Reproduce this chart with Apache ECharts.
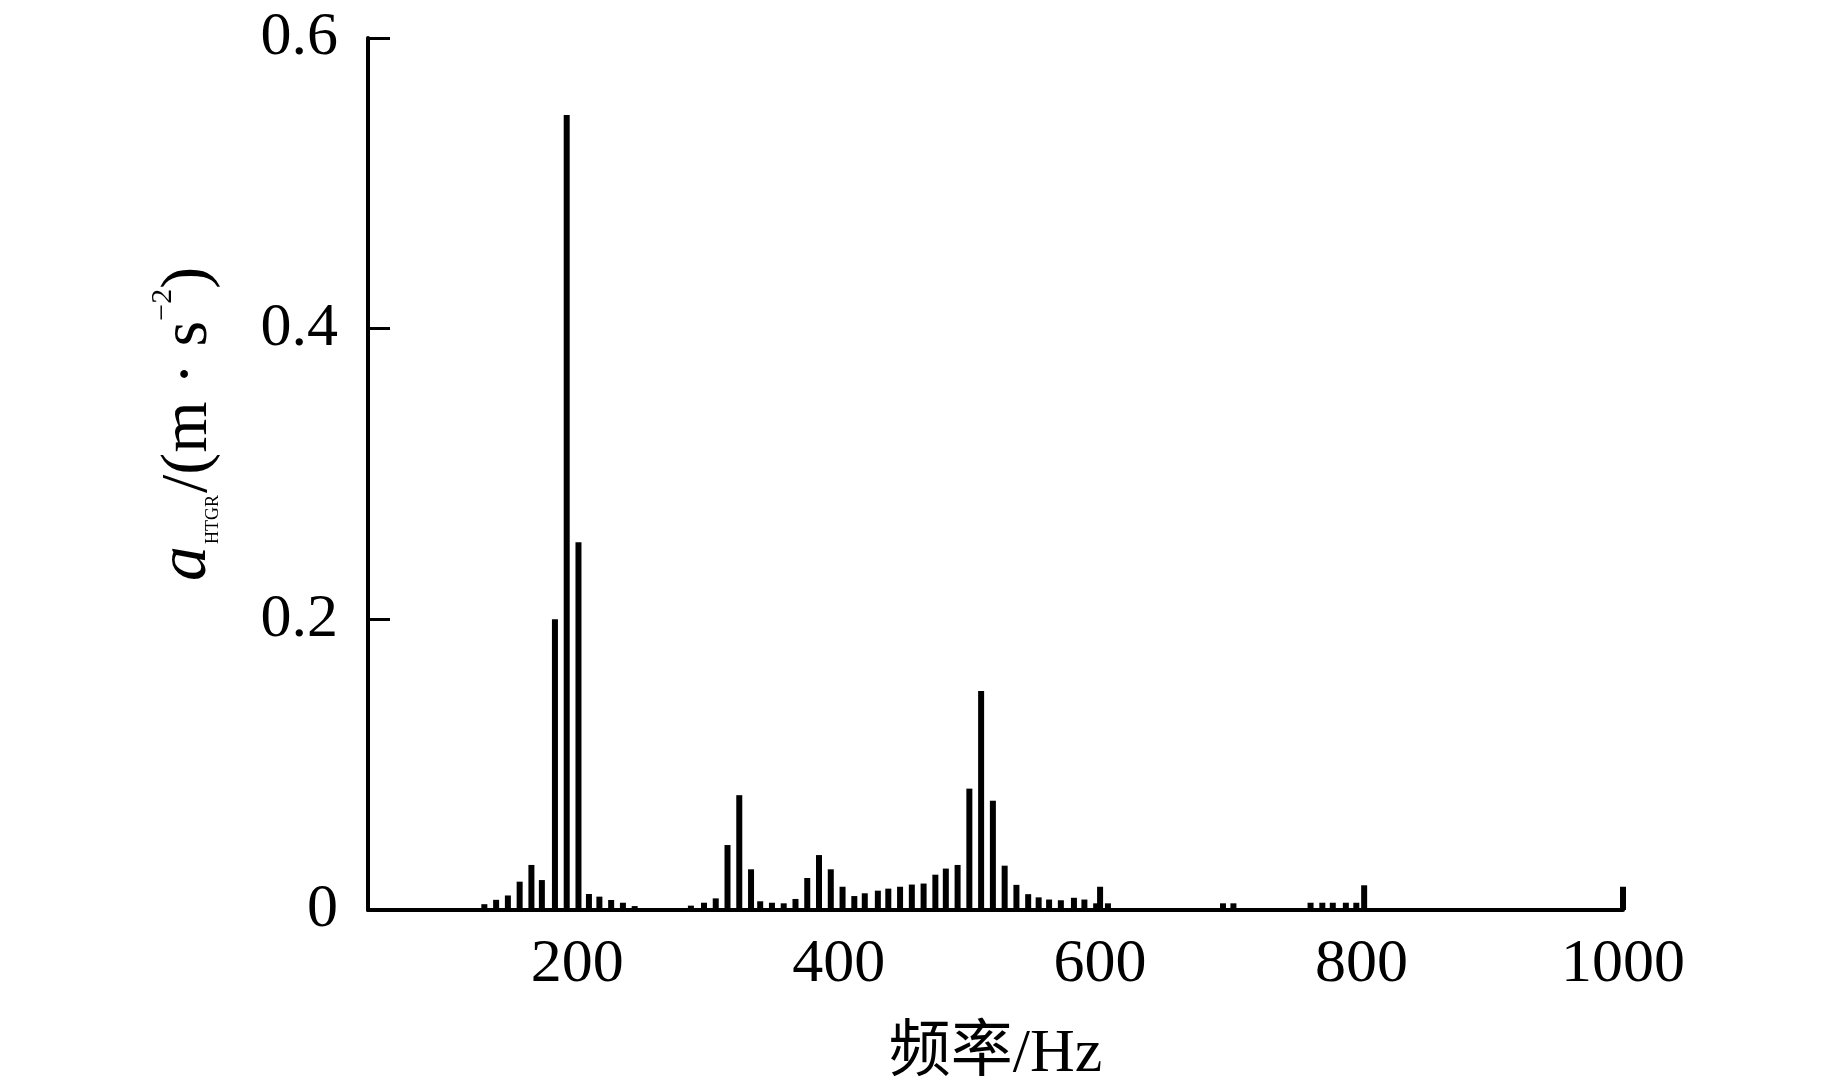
<!DOCTYPE html>
<html>
<head>
<meta charset="utf-8">
<script src="https://cdn.jsdelivr.net/npm/echarts@6/dist/echarts.min.js"></script>
<style>
html,body{margin:0;padding:0;background:#fff;}
#chart{width:1843px;height:1087px;}
</style>
</head>
<body>
<div id="chart"></div>
<script>
// Frequencies (Hz) and amplitudes (m/s^2)
const freqs = [129,138,147,156,165,173,183,192,201,209,217,226,235,244,
  287,297,306,315,324,333,340,349,358,367,376,385,394,403,412,420,430,438,
  447,456,465,474,482,491,500,509,518,527,536,545,553,561,570,580,588,597,600,606,
  694,702,761,770,778,788,796,802,1000];
const amps = [0.004,0.007,0.010,0.0195,0.031,0.0206,0.200,0.547,0.253,0.011,0.0092,0.0069,0.005,0.0027,
  0.003,0.005,0.008,0.0447,0.079,0.028,0.006,0.005,0.0046,0.0076,0.022,0.0378,0.028,0.016,0.0096,0.0115,0.0133,0.0147,
  0.016,0.0175,0.0182,0.0243,0.0285,0.031,0.0835,0.1507,0.0752,0.0305,0.0173,0.0109,0.0087,0.0072,0.0067,0.0084,0.0072,0.0046,0.016,0.0046,
  0.0046,0.0046,0.005,0.005,0.005,0.005,0.005,0.017,0.016];
const xTicks = [200,400,600,800,1000];
const yTicks = [0,0.2,0.4,0.6];
const xName = '频率/Hz';

const data = freqs.map((f,i)=>[f,amps[i]]);
const serif = '"Liberation Serif","Noto Sans CJK SC",serif';

const chart = echarts.init(document.getElementById('chart'), null, {renderer:'canvas'});
chart.setOption({
  backgroundColor:'#fff',
  animation:false,
  grid:{left:368,right:220,top:38,bottom:177,containLabel:false,outerBoundsMode:'none'},
  xAxis:{
    type:'value',min:40,max:1000,
    axisLine:{show:true,onZero:false,lineStyle:{color:'#000',width:4}},
    axisTick:{show:false},
    splitLine:{show:false},
    axisLabel:{customValues:xTicks,color:'#000',fontFamily:serif,fontSize:62,margin:24,
      formatter:v=>String(v)},
    name:xName,nameLocation:'middle',nameGap:114,
    nameTextStyle:{color:'#000',fontFamily:serif,fontSize:62}
  },
  yAxis:{
    type:'value',min:0,max:0.6,interval:0.2,
    axisLine:{show:true,lineStyle:{color:'#000',width:4}},
    axisTick:{show:true,inside:true,length:22,lineStyle:{color:'#000',width:3}},
    splitLine:{show:false},
    axisLabel:{color:'#000',fontFamily:serif,fontSize:62,margin:30,
      formatter:v=>{const t=yTicks.find(y=>Math.abs(y-v)<1e-9);return t===undefined?'':String(t);}},
    name:'{a|a}{sub|HTGR}{n|/(m · s}{sup|−2}{n|)}',
    nameLocation:'middle',nameRotate:90,nameGap:146,
    nameTextStyle:{color:'#000',fontFamily:serif,fontSize:66,padding:[0,0,0,100],
      rich:{
        a:{fontFamily:serif,fontStyle:'italic',fontSize:70,color:'#000',verticalAlign:'bottom',lineHeight:74},
        sub:{fontFamily:serif,fontSize:18,color:'#000',verticalAlign:'bottom',lineHeight:74,padding:[0,2,0,2]},
        n:{fontFamily:serif,fontSize:66,color:'#000',verticalAlign:'bottom',lineHeight:74},
        sup:{fontFamily:serif,fontSize:30,color:'#000',verticalAlign:'top',lineHeight:74}
      }}
  },
  series:[{
    type:'bar',data:data,barWidth:6,clip:false,
    itemStyle:{color:'#000'},
    emphasis:{disabled:true}
  }]
});
</script>
</body>
</html>
